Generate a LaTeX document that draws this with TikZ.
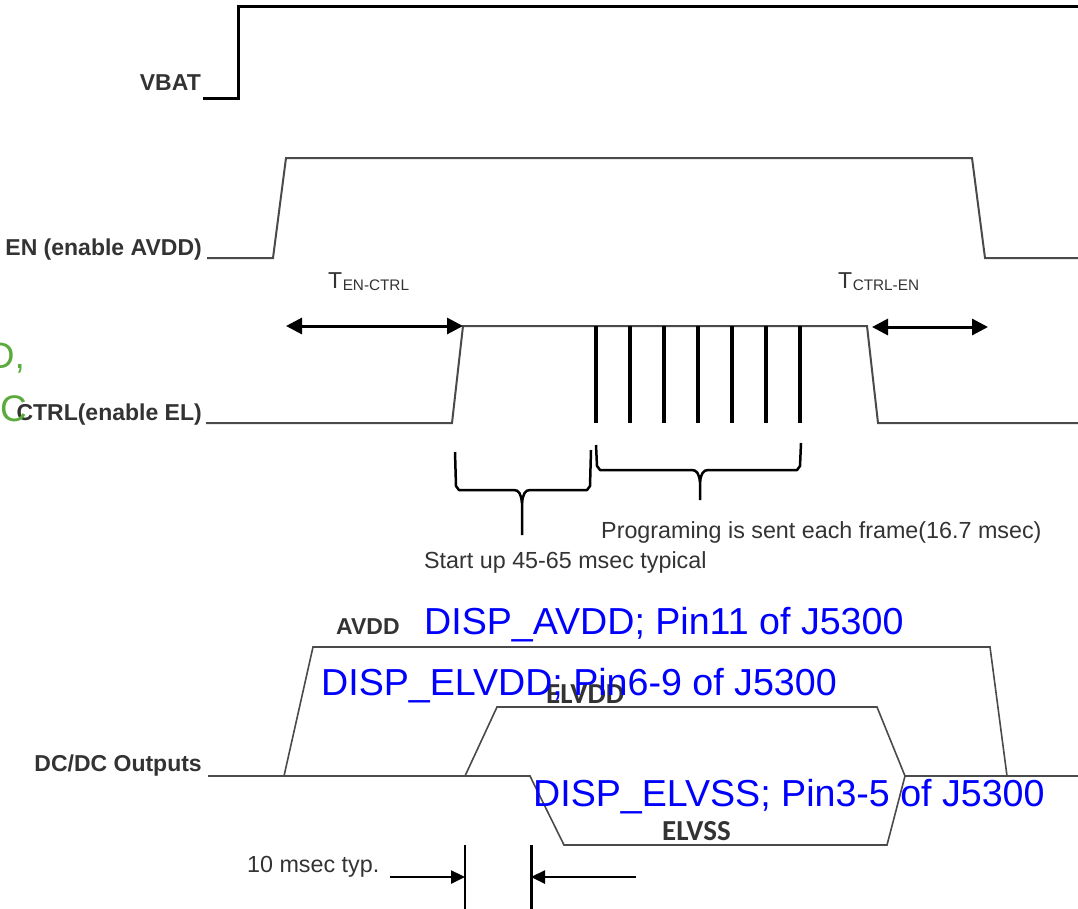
\documentclass[tikz,border=0pt]{standalone}
\usepackage{fontspec}
\setmainfont{Liberation Sans}
\newfontfamily\calfont{Carlito}
\usetikzlibrary{arrows.meta}
\definecolor{txt}{HTML}{333333}
\definecolor{wavec}{HTML}{4A4A4A}
\definecolor{ngreen}{HTML}{5AAA3C}
\begin{document}
\begin{tikzpicture}[x=1pt,y=-1pt,
  sig/.style={draw=wavec, line width=2pt, line join=miter},
  thicksig/.style={draw=black, line width=3pt},
  pulse/.style={draw=black, line width=4pt},
  bracec/.style={draw=black, line width=2.5pt, line join=round},
  dc/.style={draw=wavec, line width=1.6pt},
  dimarrow/.style={draw=black, line width=3pt, {Triangle[length=16pt,width=16pt]}-{Triangle[length=16pt,width=16pt]}},
  smallarrow/.style={draw=black, line width=2.5pt, -{Triangle[length=14pt,width=13pt]}},
  lbl/.style={font=\fontsize{23}{26}\selectfont\bfseries, text=txt, inner sep=0pt, anchor=base east},
  note/.style={font=\fontsize{23.3}{26}\selectfont, text=txt, inner sep=0pt, anchor=base west},
  clbl/.style={font=\calfont\fontsize{29}{32}\selectfont\bfseries, text=txt, inner sep=0pt, anchor=base west},
  bluelbl/.style={font=\fontsize{37.6}{40}\selectfont, text=blue, inner sep=0pt, anchor=base west},
  greenlbl/.style={font=\fontsize{37}{40}\selectfont, text=ngreen, inner sep=0pt}
]
\useasboundingbox (0,0) rectangle (1078,908);
\clip (0,0) rectangle (1078,908);

% VBAT
\draw[thicksig] (203,98) -- (238,98) -- (238,6) -- (1080,6);
\node[lbl] (vbat) at (201,90) {VBAT};

% EN
\draw[sig] (207,258) -- (273,258) -- (286,158) -- (972,158) -- (985,258) -- (1080,258);
\node[lbl] (en) at (202,255) {EN (enable AVDD)};
\node[note, font=\fontsize{23}{26}\selectfont] (ten) at (328,288) {T\kern0.5pt{\fontsize{15.3}{15}\selectfont\raisebox{-2pt}{EN-CTRL}}};
\node[note, font=\fontsize{23}{26}\selectfont] (tce) at (838,288) {T\kern0.5pt{\fontsize{15.3}{15}\selectfont\raisebox{-2pt}{CTRL-EN}}};

% CTRL
\draw[sig] (206,423) -- (452,423) -- (463,326) -- (867,326) -- (878,423) -- (1080,423);
\foreach \x in {596,630,664,698,732,766,800}
  \draw[pulse] (\x,326) -- (\x,423);
\node[lbl] (ctrl) at (202,420) {CTRL(enable EL)};
\coordinate (a1) at (286,326);
\coordinate (a2) at (463,326);
\coordinate (a3) at (872,327);
\coordinate (a4) at (988,327);
\draw[dimarrow] (a1) -- (a2);
\draw[dimarrow] (a3) -- (a4);

% green partial text
\node[greenlbl, anchor=base east] (g1) at (25,368) {D,};
\node[greenlbl, anchor=base west] (g2) at (0,421) {C};

% braces
\draw[bracec] (455,452) -- (456,486) -- (459,490) -- (514,490) .. controls (519,490) and (521,494) .. (522,503) -- (522,535);
\draw[bracec] (591,450) -- (590,486) -- (587,490) -- (530,490) .. controls (525,490) and (523,494) .. (522,503);
\draw[bracec] (596,445) -- (597,466) -- (600,470) -- (692,470) .. controls (697,470) and (699,474) .. (700,482) -- (700,500);
\draw[bracec] (801,443) -- (800,466) -- (797,470) -- (708,470) .. controls (703,470) and (701,474) .. (700,482);
\node[note] (prog) at (601,538) {Programing is sent each frame(16.7 msec)};
\node[note] (start) at (424,568) {Start up 45-65 msec typical};

% DC/DC outputs
\draw[dc] (208,776) -- (530,776) -- (564,845) -- (887,845) -- (905,776) -- (1080,776);
\draw[dc] (284,776) -- (313,647) -- (990,647) -- (1007,776);
\draw[dc] (465,776) -- (497,707) -- (877,707) -- (905,776);
\node[lbl] (dcdc) at (202,771) {DC/DC Outputs};
\node[lbl, anchor=base west] (avdd) at (336,634) {AVDD};
\node[clbl] (elvdd) at (546,703) {ELVDD};
\node[clbl] (elvss) at (662,840) {ELVSS};

% 10 msec marker
\draw[draw=black, line width=1.5pt] (465,845) -- (465,910);
\draw[draw=black, line width=3pt] (531,845) -- (531,910);
\coordinate (m1) at (390,877);
\coordinate (m2) at (465,877);
\coordinate (m3) at (636,877);
\coordinate (m4) at (531,877);
\draw[smallarrow] (m1) -- (m2);
\draw[smallarrow] (m3) -- (m4);
\node[note] (tenms) at (247,872) {10 msec typ.};

% blue annotations
\node[bluelbl] (b1) at (424,634) {DISP\_AVDD; Pin11 of J5300};
\node[bluelbl] (b2) at (321,695) {DISP\_ELVDD; Pin6-9 of J5300};
\node[bluelbl] (b3) at (533,806) {DISP\_ELVSS; Pin3-5 of J5300};
\end{tikzpicture}
\end{document}
